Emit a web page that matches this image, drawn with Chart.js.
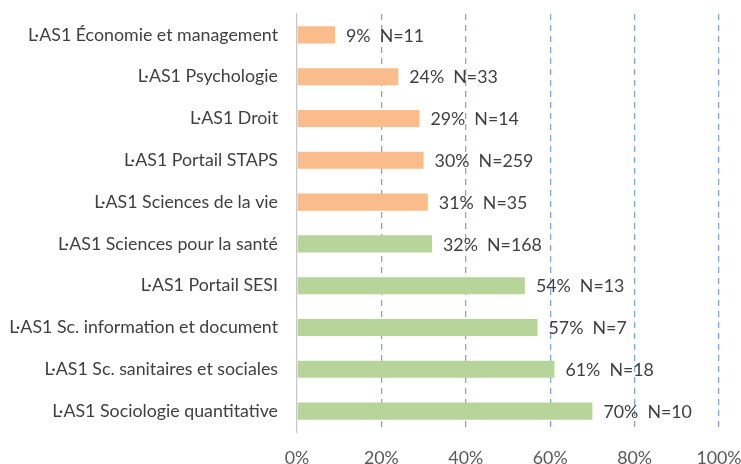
<!DOCTYPE html>
<html>
<head>
<meta charset="utf-8">
<script src="https://cdn.jsdelivr.net/npm/chart.js@4"></script>
<style>
  html, body { margin: 0; padding: 0; background: #fff; }
  #wrap { width: 741px; height: 464px; }
</style>
</head>
<body>
<div id="wrap"><canvas id="chart"></canvas></div>
<script>
  const categories = [
    "L·AS1 Économie et management",
    "L·AS1 Psychologie",
    "L·AS1 Droit",
    "L·AS1 Portail STAPS",
    "L·AS1 Sciences de la vie",
    "L·AS1 Sciences pour la santé",
    "L·AS1 Portail SESI",
    "L·AS1 Sc. information et document",
    "L·AS1 Sc. sanitaires et sociales",
    "L·AS1 Sociologie quantitative",
  ];
  const percents = [9, 24, 29, 30, 31, 32, 54, 57, 61, 70];
  const counts = [11, 33, 14, 259, 35, 168, 13, 7, 18, 10];
  const groups = ["o", "o", "o", "o", "o", "g", "g", "g", "g", "g"];
  const xTicks = [0, 20, 40, 60, 80, 100];

  const ORANGE = "#F9BC8A";
  const GREEN = "#B7D59B";
  const FONT = "Lato";
  const SIZE = 17.8;

  // value labels to the right of each bar: "9%  N=11"
  const barLabels = {
    id: "barLabels",
    afterDatasetsDraw(chart) {
      const { ctx } = chart;
      const meta = chart.getDatasetMeta(0);
      ctx.save();
      ctx.font = SIZE + "px " + FONT;
      ctx.fillStyle = "#404040";
      ctx.textBaseline = "middle";
      ctx.textAlign = "left";
      meta.data.forEach((bar, i) => {
        ctx.fillText(percents[i] + "%  N=" + counts[i], bar.x + 11, bar.y + 1);
      });
      ctx.restore();
    },
  };

  new Chart(document.getElementById("chart"), {
    type: "bar",
    data: {
      labels: categories,
      datasets: [{
        data: percents,
        backgroundColor: groups.map((g) => (g === "o" ? ORANGE : GREEN)),
        barPercentage: 0.41,
        categoryPercentage: 1,
      }],
    },
    options: {
      responsive: true,
      maintainAspectRatio: false,
      animation: false,
      indexAxis: "y",
      layout: { padding: { top: 14, right: 22, left: 0, bottom: 0 } },
      plugins: { legend: { display: false }, tooltip: { enabled: false } },
      scales: {
        x: {
          min: 0,
          max: 100,
          afterBuildTicks: (s) => { s.ticks = xTicks.map((v) => ({ value: v })); },
          afterFit: (s) => {
            s.height = 32;
            s.paddingLeft = 0;
            s.paddingRight = 0;
          },
          ticks: {
            color: "#595959",
            padding: 16,
            font: { family: FONT, size: SIZE },
            callback: (v) => v + "%",
          },
          grid: {
            drawTicks: false,
            color: (c) => (c.tick && c.tick.value === 0 ? "rgba(0,0,0,0)" : "#7FA8D8"),
            lineWidth: 1.3,
          },
          border: { display: false, dash: [6, 5] },
        },
        y: {
          afterFit: (s) => {
            s.width = 297;
            s.paddingTop = 0;
            s.paddingBottom = 0;
          },
          ticks: {
            color: "#404040",
            padding: 19,
            font: { family: FONT, size: SIZE },
          },
          grid: { display: false, drawTicks: false },
          border: { display: true, color: "#C8C8C8", width: 1.3 },
        },
      },
    },
    plugins: [barLabels],
  });
</script>
</body>
</html>
